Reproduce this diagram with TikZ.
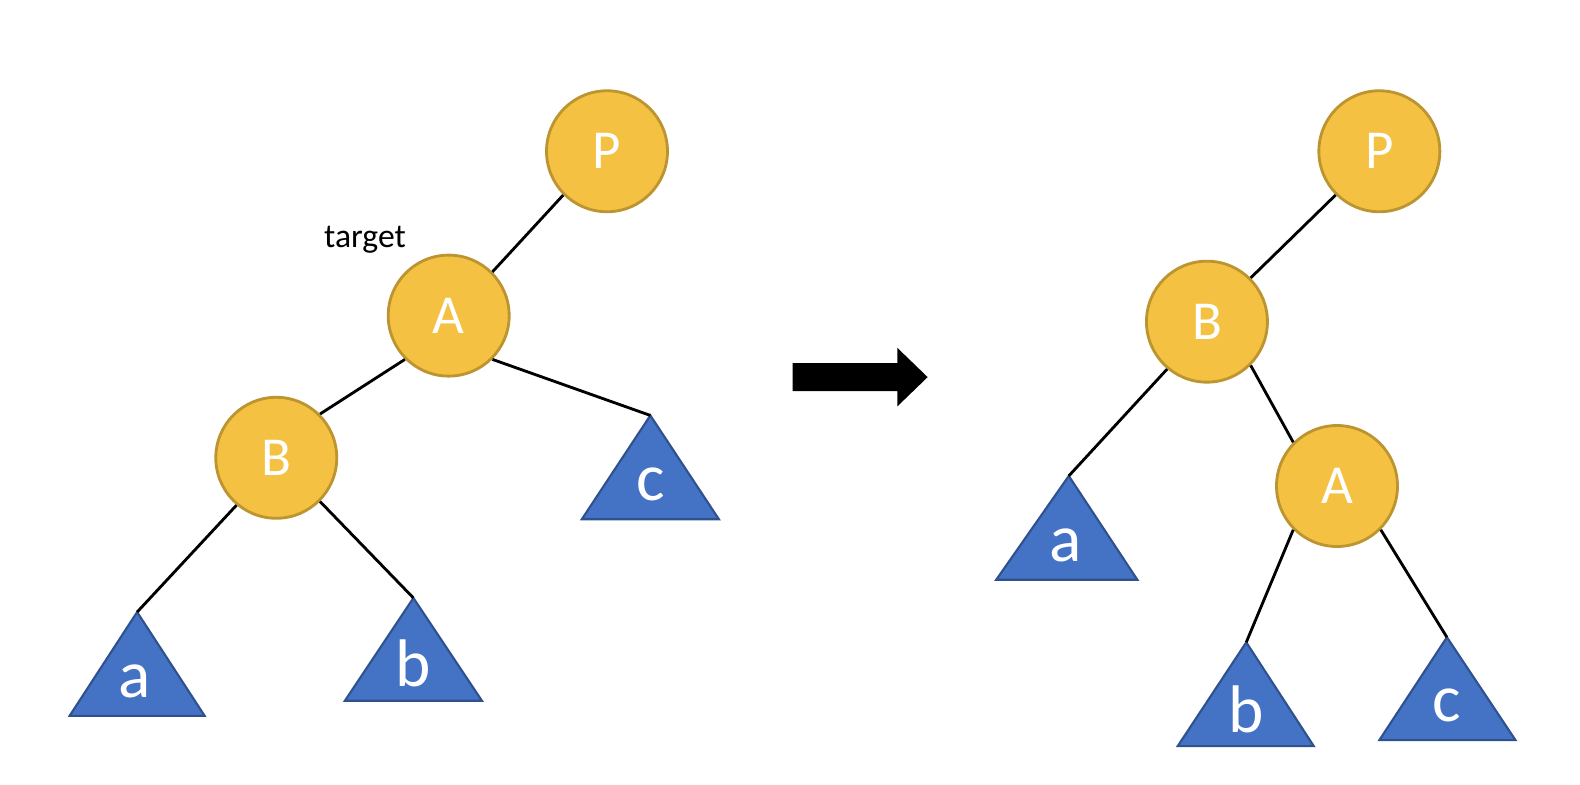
\documentclass[tikz,border=0pt]{standalone}
\usepackage{fontspec}
\setmainfont{Carlito}
\usetikzlibrary{positioning}
\usetikzlibrary{calc}

\definecolor{nodegold}{HTML}{F5C142}
\definecolor{nodeedge}{HTML}{BC9530}
\definecolor{triblue}{HTML}{4472C4}
\definecolor{triedge}{HTML}{2F528F}

\tikzset{
  key/.style={circle, minimum size=1.2cm, inner sep=0pt, fill=nodegold, draw=nodeedge, line width=0.8pt, text=white, font=\fontsize{15.5}{18}\selectfont},
  subtree/.style={fill=triblue, draw=triedge, line width=0.6pt},
  sublabel/.style={inner sep=0pt, text=white, font=\fontsize{19}{22}\selectfont},
  link/.style={line width=0.8pt, black}
}

\begin{document}
\begin{tikzpicture}
\useasboundingbox (0,0) rectangle (15.67,-7.78);

% before the rotation
\node[key](P1) at (6.02,-1.50){P};
\node[key](A1) at (4.45,-3.13){A};
\node[key](B1) at (2.74,-4.54){B};
\node[font=\fontsize{9.5}{11}\selectfont](target) at (3.62,-2.38){target};

\draw[subtree](1.36,-6.07) coordinate (topa1) -- (0.69,-7.10) -- (2.03,-7.10) -- cycle;
\draw[subtree](4.10,-5.93) coordinate (topb1) -- (3.42,-6.95) -- (4.78,-6.95) -- cycle;
\draw[subtree](6.45,-4.12) coordinate (topc1) -- (5.77,-5.15) -- (7.13,-5.15) -- cycle;
\node[sublabel](a1) at (1.34,-6.76){a};
\node[sublabel](b1) at (4.10,-6.58){b};
\node[sublabel](c1) at (6.45,-4.80){c};

\path
(P1.south west) edge[link] (A1.north east)
(A1.south west) edge[link] (B1.north east)
(A1.south east) edge[link] (topc1)
(B1.-130) edge[link] (topa1)
(B1.south east) edge[link] (topb1);

% the arrow
\fill[black](7.86,-3.60) -- (8.90,-3.60) -- (8.90,-3.45) -- (9.20,-3.74) -- (8.90,-4.03) -- (8.90,-3.88) -- (7.86,-3.88) -- cycle;

% after the rotation
\node[key](P2) at (13.68,-1.50){P};
\node[key](B2) at (11.97,-3.19){B};
\node[key](A2) at (13.26,-4.82){A};

\draw[subtree](10.60,-4.72) coordinate (topa2) -- (9.88,-5.75) -- (11.28,-5.75) -- cycle;
\draw[subtree](12.36,-6.37) coordinate (topb2) -- (11.68,-7.40) -- (13.03,-7.40) -- cycle;
\draw[subtree](14.35,-6.32) coordinate (topc2) -- (13.68,-7.34) -- (15.03,-7.34) -- cycle;
\node[sublabel](a2) at (10.57,-5.41){a};
\node[sublabel](b2) at (12.36,-7.03){b};
\node[sublabel](c2) at (14.35,-7.00){c};

\path
(P2.south west) edge[link] (B2.north east)
(B2.-130) edge[link] (topa2)
(B2.south east) edge[link] (A2.north west)
(A2.south west) edge[link] (topb2)
(A2.south east) edge[link] (topc2);
\end{tikzpicture}
\end{document}
